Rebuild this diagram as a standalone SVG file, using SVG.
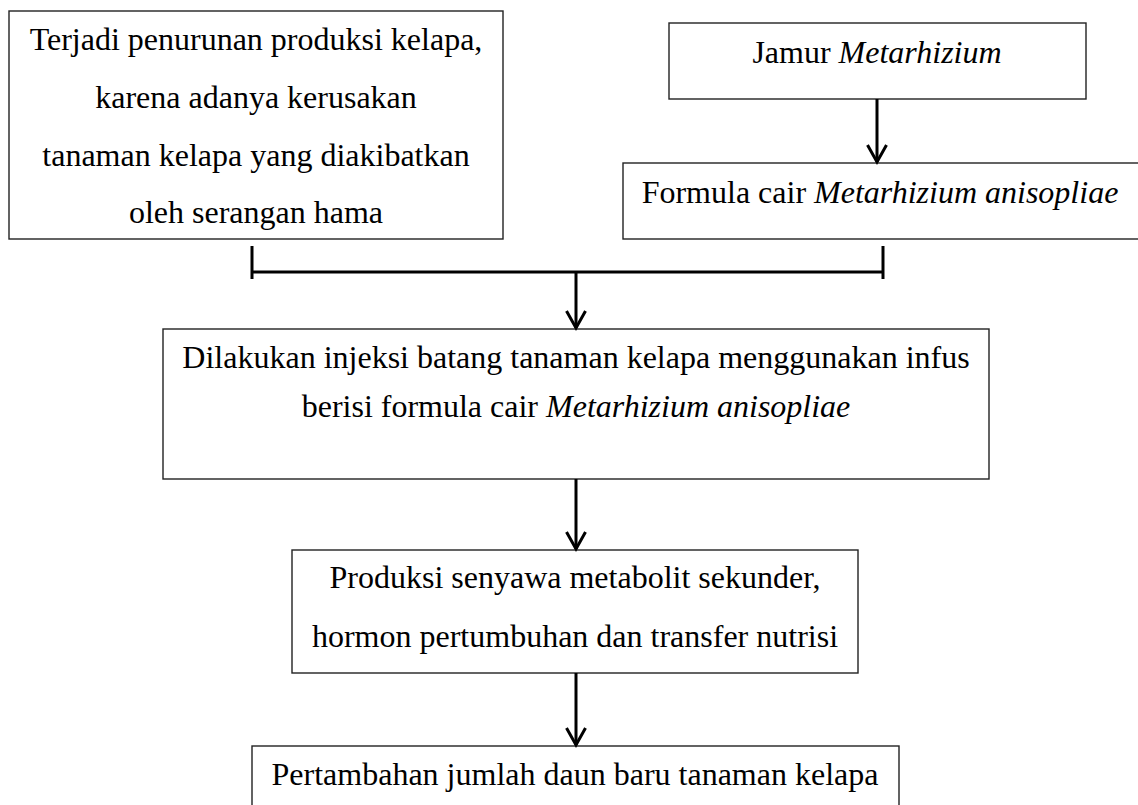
<svg xmlns="http://www.w3.org/2000/svg" width="1138" height="805" viewBox="0 0 1138 805">
  <style>
    .box { fill: #ffffff; stroke: #222222; stroke-width: 1.4; }
    .t { font-family: "Liberation Serif", "Times New Roman", serif; font-size: 32px; fill: #000000; text-anchor: middle; }
    .i { font-style: italic; }
    .con { stroke: #000000; stroke-width: 3; fill: none; }
  </style>
  <defs>
    <marker id="arr" markerUnits="userSpaceOnUse" markerWidth="24" markerHeight="26" viewBox="-20 -13 24 26" refX="0" refY="0" orient="auto">
      <path d="M-17,-9.5 L0,0 L-17,9.5" fill="none" stroke="#000000" stroke-width="3" stroke-linejoin="miter"/>
    </marker>
  </defs>
  <rect width="1138" height="805" fill="#ffffff"/>

  <g id="node-penurunan">
    <rect class="box" x="9" y="11" width="494" height="228"/>
    <text class="t" x="256" y="50">Terjadi penurunan produksi kelapa,</text>
    <text class="t" x="256" y="108">karena adanya kerusakan</text>
    <text class="t" x="256" y="166">tanaman kelapa yang diakibatkan</text>
    <text class="t" x="256" y="223">oleh serangan hama</text>
  </g>

  <g id="node-jamur">
    <rect class="box" x="669" y="23" width="417" height="76"/>
    <text class="t" x="877" y="63">Jamur <tspan class="i">Metarhizium</tspan></text>
  </g>

  <g id="node-formula">
    <rect class="box" x="623" y="163" width="520" height="76"/>
    <text class="t" x="880" y="203">Formula cair <tspan class="i">Metarhizium anisopliae</tspan></text>
  </g>

  <g id="node-injeksi">
    <rect class="box" x="163" y="329" width="826" height="150"/>
    <text class="t" x="576" y="368">Dilakukan injeksi batang tanaman kelapa menggunakan infus</text>
    <text class="t" x="576" y="417">berisi formula cair <tspan class="i">Metarhizium anisopliae</tspan></text>
  </g>

  <g id="node-produksi">
    <rect class="box" x="292" y="550" width="566" height="123"/>
    <text class="t" x="575" y="588">Produksi senyawa metabolit sekunder,</text>
    <text class="t" x="575" y="647">hormon pertumbuhan dan transfer nutrisi</text>
  </g>

  <g id="node-pertambahan">
    <rect class="box" x="252" y="746" width="647" height="70"/>
    <text class="t" x="575" y="785">Pertambahan jumlah daun baru tanaman kelapa</text>
  </g>

  <g id="connectors">
    <line class="con" x1="877" y1="99" x2="877" y2="162" marker-end="url(#arr)"/>
    <line class="con" x1="252" y1="246" x2="252" y2="279"/>
    <line class="con" x1="883" y1="246" x2="883" y2="279"/>
    <line class="con" x1="252" y1="272" x2="883" y2="272"/>
    <line class="con" x1="576" y1="272" x2="576" y2="328" marker-end="url(#arr)"/>
    <line class="con" x1="576" y1="479" x2="576" y2="549" marker-end="url(#arr)"/>
    <line class="con" x1="576" y1="673" x2="576" y2="745" marker-end="url(#arr)"/>
  </g>
</svg>
